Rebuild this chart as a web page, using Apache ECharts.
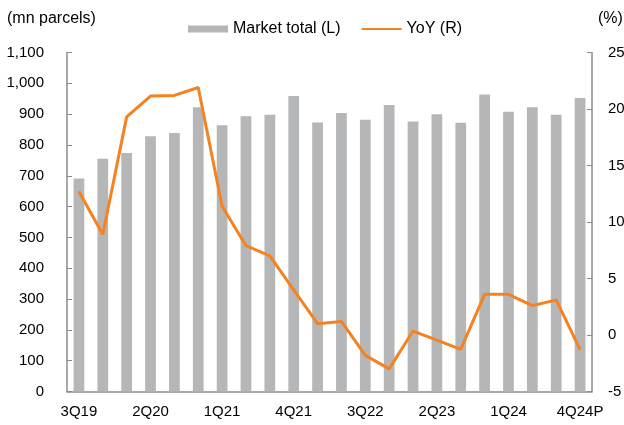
<!DOCTYPE html>
<html>
<head>
<meta charset="utf-8">
<script src="https://cdn.jsdelivr.net/npm/echarts@6/dist/echarts.min.js"></script>
<style>
  html, body { margin: 0; padding: 0; background: #fff; }
  #chart { width: 624px; height: 425px; }
</style>
</head>
<body>
<div id="chart"></div>
<script>
// quarters on the x axis
const quarters = ['3Q19', '4Q19', '1Q20', '2Q20', '3Q20', '4Q20', '1Q21', '2Q21', '3Q21', '4Q21',
  '1Q22', '2Q22', '3Q22', '4Q22', '1Q23', '2Q23', '3Q23', '4Q23', '1Q24', '2Q24', '3Q24', '4Q24P'];
// market total, mn parcels (left axis)
const marketTotal = [691, 755, 774, 828, 839, 922, 864, 893, 898, 959,
  873, 904, 882, 930, 876, 900, 872, 964, 908, 922, 898, 952];
// YoY, % (right axis)
const yoy = [12.7, 8.9, 19.3, 21.15, 21.2, 21.9, 11.4, 7.9, 7.0, 4.0,
  1.0, 1.2, -1.8, -3.0, 0.35, -0.45, -1.27, 3.6, 3.6, 2.6, 3.1, -1.3];

const font = 'Arial, "Liberation Sans", sans-serif';
const axisGray = '#8c8c8c';

const chart = echarts.init(document.getElementById('chart'));
chart.setOption({
  animation: false,
  textStyle: { fontFamily: font, color: '#000' },
  legend: {
    top: 16,
    left: 183,
    itemGap: 20,
    itemWidth: 40,
    itemHeight: 7,
    textStyle: { fontSize: 16, color: '#000', fontFamily: font },
    data: [
      { name: 'Market total (L)', icon: 'rect' },
      { name: 'YoY (R)', itemStyle: { opacity: 0 } }
    ]
  },
  graphic: [
    { type: 'text', left: 7, top: 11, style: { text: '(mn parcels)', font: '16px ' + font, fill: '#000' } },
    { type: 'text', left: 598, top: 11, style: { text: '(%)', font: '16px ' + font, fill: '#000' } }
  ],
  grid: { left: 67, right: 32, top: 52.5, bottom: 33.5, containLabel: false, outerBoundsMode: 'none' },
  xAxis: {
    type: 'category',
    data: quarters,
    boundaryGap: true,
    axisLine: { lineStyle: { color: axisGray, width: 1.5 } },
    axisTick: { inside: true, length: 4, interval: 0, lineStyle: { color: axisGray } },
    axisLabel: { interval: 2, fontSize: 15, color: '#000', margin: 13, fontFamily: font }
  },
  yAxis: [
    {
      type: 'value',
      min: 0, max: 1100, interval: 100,
      axisLine: { show: true, lineStyle: { color: axisGray, width: 1.5 } },
      axisTick: { show: true, inside: true, length: 5, lineStyle: { color: axisGray } },
      splitLine: { show: false },
      axisLabel: {
        fontSize: 15, color: '#000', margin: 23, fontFamily: font,
        formatter: v => v.toLocaleString('en-US')
      }
    },
    {
      type: 'value',
      min: -5, max: 25, interval: 5,
      position: 'right',
      axisLine: { show: true, lineStyle: { color: axisGray, width: 1.5 } },
      axisTick: { show: true, inside: true, length: 5, lineStyle: { color: axisGray } },
      splitLine: { show: false },
      axisLabel: { fontSize: 15, color: '#000', margin: 16, fontFamily: font }
    }
  ],
  series: [
    {
      name: 'Market total (L)',
      type: 'bar',
      data: marketTotal,
      barWidth: '45%',
      itemStyle: { color: '#b5b6b8' }
    },
    {
      name: 'YoY (R)',
      type: 'line',
      yAxisIndex: 1,
      data: yoy,
      symbol: 'none',
      lineStyle: { color: '#f58220', width: 3 },
      itemStyle: { color: '#f58220' }
    }
  ]
});
</script>
</body>
</html>
